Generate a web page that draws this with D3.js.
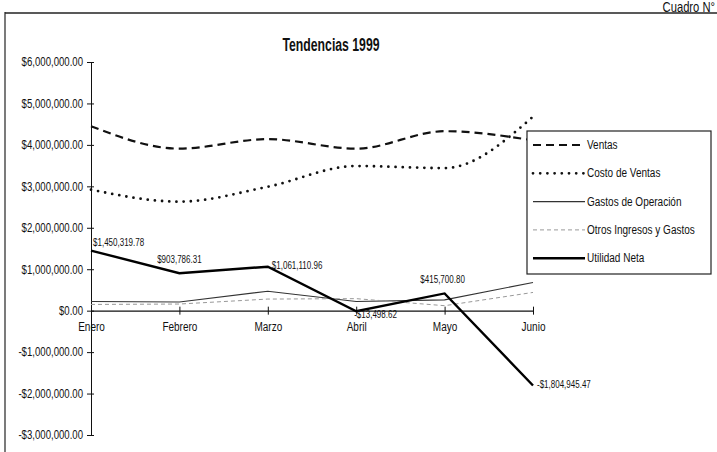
<!DOCTYPE html>
<html><head><meta charset="utf-8">
<script src="https://cdn.jsdelivr.net/npm/d3@7"></script>
<style>
body{margin:0;background:#fff;}
text{font-family:"Liberation Sans Narrow","Arial Narrow","Liberation Sans",Arial,sans-serif;}
</style></head><body>
<svg id="c" width="717" height="452"></svg>
<script>
const categories = ["Enero","Febrero","Marzo","Abril","Mayo","Junio"];
const ventas = [4450000, 3910000, 4140000, 3910000, 4330000, 4110000];
const costoVentas = [2920000, 2630000, 2990000, 3490000, 3440000, 4680000];
const gastosOperacion = [220000, 210000, 470000, 220000, 260000, 680000];
const otrosIngresos = [150000, 160000, 280000, 290000, 120000, 440000];
const utilidadNeta = [1450319.78, 903786.31, 1061110.96, -13498.62, 415700.80, -1804945.47];
const utilidadLabels = ["$1,450,319.78","$903,786.31","$1,061,110.96","-$13,498.62","$415,700.80","-$1,804,945.47"];
const yTicks = [6e6,5e6,4e6,3e6,2e6,1e6,0,-1e6,-2e6,-3e6];
const seriesNames = ["Ventas","Costo de Ventas","Gastos de Operación","Otros Ingresos y Gastos","Utilidad Neta"];

const svg = d3.select("#c");
const x = d3.scalePoint().domain(categories).range([91,533]);
const y = d3.scaleLinear().domain([-3e6,6e6]).range([435,62]);

// frame
svg.append("line").attr("x1",5).attr("x2",5).attr("y1",12).attr("y2",452).attr("stroke","#222").attr("stroke-width",1.2);
svg.append("line").attr("x1",5).attr("x2",717).attr("y1",13).attr("y2",13).attr("stroke","#222").attr("stroke-width",1.5);
svg.append("text").attr("x",715).attr("y",12).attr("text-anchor","end").attr("font-size",14).attr("fill","#111").attr("data-c","0.8").text("Cuadro N°");

svg.append("text").attr("x",331).attr("y",51).attr("text-anchor","middle").attr("font-size",17.5).attr("font-weight","bold").attr("fill","#111").attr("data-c","0.7").text("Tendencias 1999");

const fmt = v => (v<0?"-":"") + "$" + d3.format(",.2f")(Math.abs(v));

// y axis
const ya = d3.axisLeft(y).tickValues(yTicks).tickFormat(fmt).tickSizeInner(4).tickSizeOuter(0).tickPadding(4);
const yg = svg.append("g").attr("transform","translate(91,0)").call(ya);
yg.selectAll("path").attr("stroke","#111");
yg.selectAll("line").attr("x2",-4).attr("x1",3).attr("stroke","#111");
yg.selectAll("text").attr("font-size",12).attr("fill","#111");

// x axis at zero
const xa = d3.axisBottom(x).tickSizeInner(0).tickSizeOuter(0).tickPadding(9);
const xg = svg.append("g").attr("transform",`translate(0,${y(0)})`).call(xa);
xg.selectAll("path").attr("stroke","#111").attr("stroke-width",1.3);
xg.selectAll(".tick line").attr("y1",-4).attr("y2",4).attr("stroke","#111");
xg.selectAll("text").attr("font-size",12.5).attr("fill","#111").attr("dy","0.9em");

const smooth = d3.line().x((d,i)=>x(categories[i])).y(d=>y(d)).curve(d3.curveMonotoneX);
const straight = d3.line().x((d,i)=>x(categories[i])).y(d=>y(d));

const styles = [
  {data:ventas, gen:smooth, stroke:"#111", w:2.2, dash:"8,5", cap:"butt"},
  {data:costoVentas, gen:smooth, stroke:"#111", w:2.8, dash:"0,7.2", cap:"round"},
  {data:gastosOperacion, gen:straight, stroke:"#333", w:1.1, dash:null, cap:"butt"},
  {data:otrosIngresos, gen:straight, stroke:"#999", w:1, dash:"4,3", cap:"butt"},
  {data:utilidadNeta, gen:straight, stroke:"#000", w:2.4, dash:null, cap:"butt"}
];
styles.forEach(s=>{
  svg.append("path").attr("d",s.gen(s.data)).attr("fill","none").attr("stroke",s.stroke)
    .attr("stroke-width",s.w).attr("stroke-dasharray",s.dash).attr("stroke-linecap",s.cap);
});

// data labels for Utilidad Neta
const lblPos = [
  {dx:2, dy:-5, a:"start"},
  {dx:0, dy:-10, a:"middle"},
  {dx:4, dy:2, a:"start"},
  {dx:-2, dy:6.5, a:"start"},
  {dx:-2, dy:-10, a:"middle"},
  {dx:4, dy:3, a:"start"}
];
utilidadNeta.forEach((v,i)=>{
  const p = lblPos[i];
  svg.append("text").attr("x",x(categories[i])+p.dx).attr("y",y(v)+p.dy)
    .attr("text-anchor",p.a).attr("font-size",10).attr("fill","#111").text(utilidadLabels[i]);
});

// legend
const lg = svg.append("g");
lg.append("rect").attr("x",527).attr("y",131).attr("width",184).attr("height",143)
  .attr("fill","#fff").attr("stroke","#222").attr("stroke-width",1.2);
seriesNames.forEach((n,i)=>{
  const yy = 145 + i*28.3;
  const s = styles[i];
  lg.append("line").attr("x1",533).attr("x2",585).attr("y1",yy).attr("y2",yy)
    .attr("stroke",s.stroke).attr("stroke-width",s.w).attr("stroke-dasharray",s.dash).attr("stroke-linecap",s.cap);
  lg.append("text").attr("x",587).attr("y",yy+4).attr("font-size",12.5).attr("fill","#111").text(n);
});

// condense all text to mimic a narrow face
svg.selectAll("text").each(function(){
  const l = this.getComputedTextLength();
  const c = +(this.getAttribute("data-c") || 0.8);
  this.setAttribute("textLength", (l*c).toFixed(1));
  this.setAttribute("lengthAdjust","spacingAndGlyphs");
});
</script>
</body></html>
